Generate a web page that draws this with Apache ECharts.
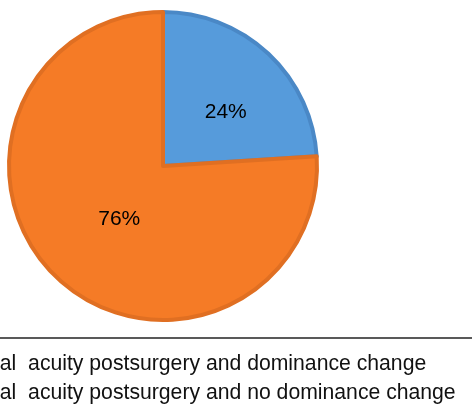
<!DOCTYPE html>
<html>
<head>
<meta charset="utf-8">
<script src="https://cdn.jsdelivr.net/npm/echarts@6/dist/echarts.min.js"></script>
<style>
html,body{margin:0;padding:0;background:#fff;}
#chart{width:472px;height:409px;}
</style>
</head>
<body>
<div id="chart"></div>
<script>
var categories = [
  "Visual  acuity postsurgery and dominance change",
  "Visual  acuity postsurgery and no dominance change"
];
var values = [24, 76];
var fillColors = ["#569BDB", "#F57B26"];
var borderColors = ["#4A88C6", "#E06F22"];
var labelOffsets = [[8, 5], [11, -5]];

var chart = echarts.init(document.getElementById('chart'), null, {renderer: 'canvas'});
var data = categories.map(function (c, i) {
  return {
    name: c,
    value: values[i],
    itemStyle: {color: fillColors[i], borderColor: borderColors[i]},
    label: {offset: labelOffsets[i]}
  };
});
chart.setOption({
  animation: false,
  backgroundColor: '#ffffff',
  legend: {
    orient: 'vertical',
    left: -66,
    top: 349,
    itemWidth: 14,
    itemHeight: 14,
    itemGap: 8,
    textStyle: {fontFamily: 'Liberation Sans, Arial, sans-serif', fontSize: 21.2, color: '#111111'},
    data: categories
  },
  graphic: [{
    type: 'rect',
    shape: {x: 0, y: 337, width: 472, height: 2},
    style: {fill: '#595959'},
    silent: true
  }],
  series: [{
    type: 'pie',
    center: [163, 166],
    radius: [0, 154],
    startAngle: 90,
    clockwise: true,
    data: data,
    itemStyle: {borderWidth: 4},
    emphasis: {disabled: true},
    label: {
      show: true,
      position: 'inside',
      formatter: '{c}%',
      fontFamily: 'Liberation Sans, Arial, sans-serif',
      fontSize: 21,
      color: '#000000'
    },
    labelLine: {show: false}
  }]
});
</script>
</body>
</html>
